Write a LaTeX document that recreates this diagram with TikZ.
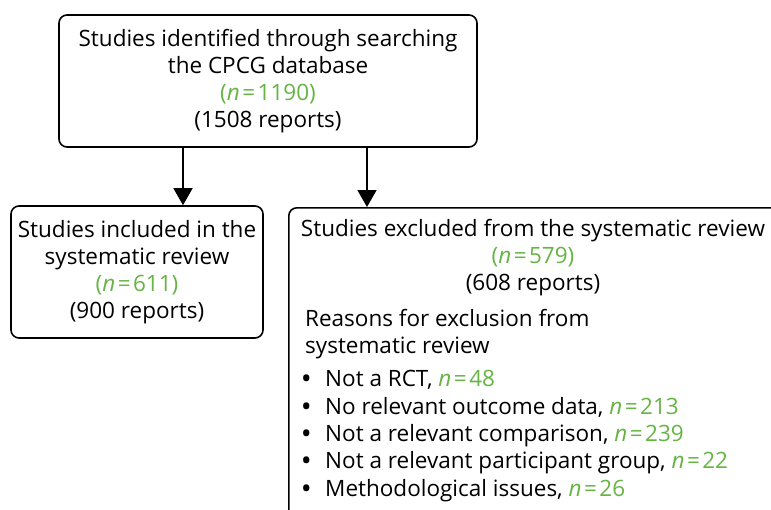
\documentclass[tikz,border=0pt]{standalone}
\usepackage{fontspec}
\setmainfont{Open Sans}
\usetikzlibrary{arrows.meta}
\definecolor{ngreen}{RGB}{102,180,68}
\newcommand{\nval}[1]{{\color{ngreen}\textit{n}\kern2.5pt=\kern2.5pt#1}}
\newcommand{\bul}{\makebox[23pt][l]{\textbf{\textbullet}}}

\begin{document}
\begin{tikzpicture}[x=1pt, y=-1pt,
    every node/.style={font=\fontsize{22.5}{27}\selectfont},
    box/.style={draw, line width=1.6pt, rounded corners=8pt, align=center, inner sep=0pt},
    arr/.style={line width=1.6pt, -{Triangle[length=17pt, width=19pt]}}]
        \useasboundingbox (0,0) rectangle (771,509);
        \clip (0,0) rectangle (771,509);
        \node[box, minimum width=418pt, minimum height=132pt] (top) at (268,81)
            {Studies identified through searching\\ the CPCG database\\ {\color{ngreen}(}\nval{1190}{\color{ngreen})}\\ (1508 reports)};
        \node[box, minimum width=252pt, minimum height=132pt] (incl) at (137,272)
            {Studies included in the\\ systematic review\\ {\color{ngreen}(}\nval{611}{\color{ngreen})}\\ (900 reports)};
        \node[box, minimum width=520pt, minimum height=340pt, anchor=north west] (excl) at (288,207) {};
        \node[align=center, inner sep=0pt, anchor=base] (exclhead) at (533,290)
            {Studies excluded from the systematic review\\ {\color{ngreen}(}\nval{579}{\color{ngreen})}\\ (608 reports)};
        \node[align=left, inner sep=0pt, anchor=base west] (reasons) at (305,353)
            {Reasons for exclusion from\\ systematic review};
        \node[align=left, inner sep=0pt, anchor=base west, font=\fontsize{22.5}{27.3}\selectfont] (list) at (302,496)
            {\bul Not a RCT, \nval{48}\\
             \bul No relevant outcome data, \nval{213}\\
             \bul Not a relevant comparison, \nval{239}\\
             \bul Not a relevant participant group, \nval{22}\\
             \bul Methodological issues, \nval{26}};
        \coordinate (a1) at (183,146);
        \coordinate (a2) at (367,146);
        \draw[arr] (a1) -- (a1 |- incl.north);
        \draw[arr] (a2) -- (a2 |- excl.north);
    \end{tikzpicture}
\end{document}
